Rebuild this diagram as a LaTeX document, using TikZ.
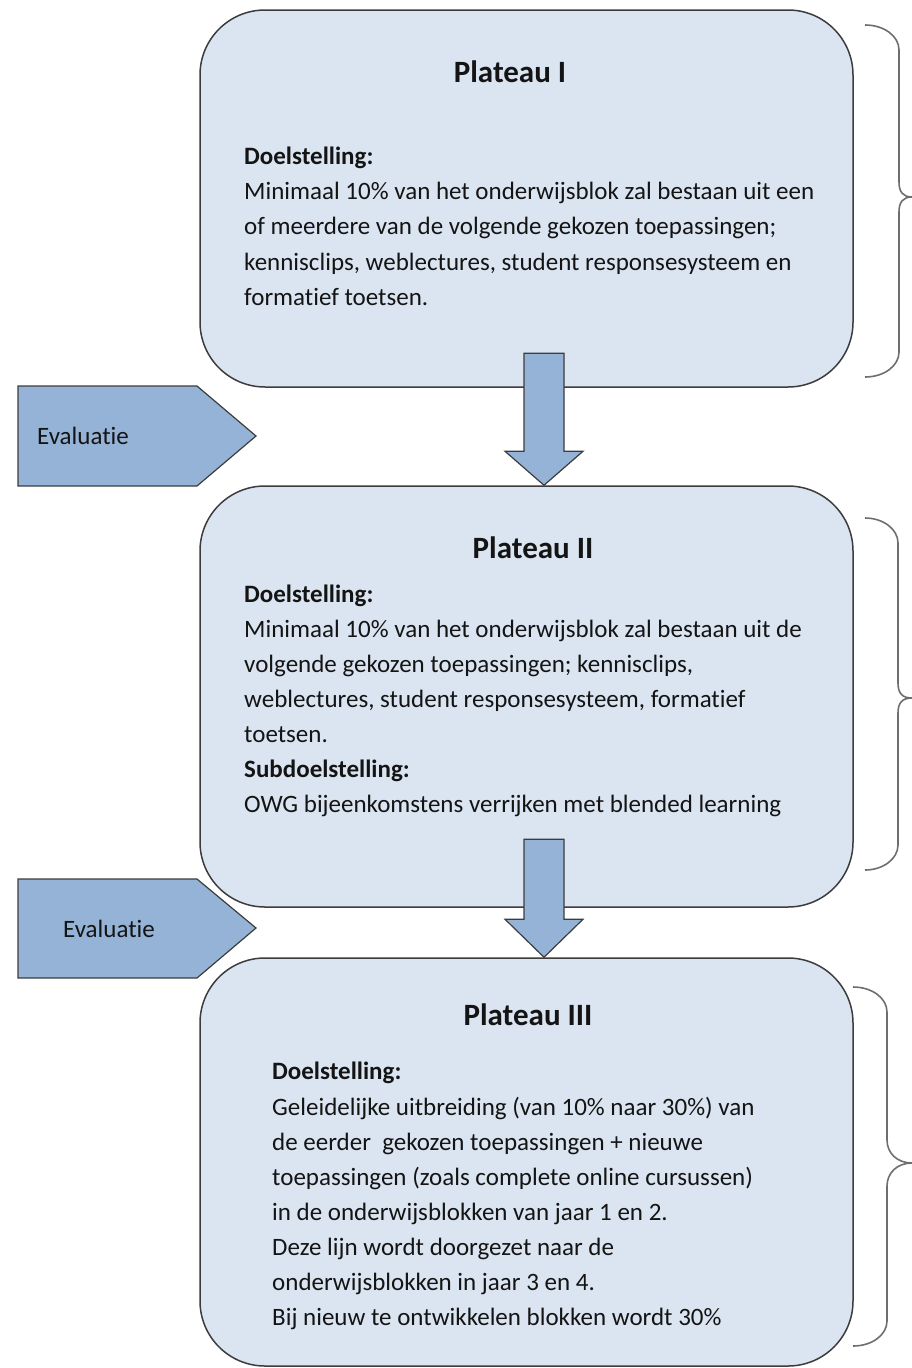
\documentclass[tikz,border=0pt]{standalone}
\usepackage{fontspec}
\setmainfont{Carlito}[Ligatures={NoCommon}]
\usetikzlibrary{calc}
\definecolor{boxfill}{RGB}{219,229,241}
\definecolor{arrfill}{RGB}{149,179,215}
\definecolor{bordc}{RGB}{60,60,60}
\definecolor{bracec}{RGB}{110,110,110}
\definecolor{txtc}{RGB}{20,20,20}
\begin{document}
\begin{tikzpicture}[x=1pt,y=-1pt,
 plateau/.style={draw=bordc, line width=1.5pt, fill=boxfill, rounded corners=65pt, inner sep=0pt},
 blockarrow/.style={draw=bordc, line width=1.2pt, fill=arrfill, line join=miter},
 evalshape/.style={draw=bordc, line width=1.2pt, fill=arrfill, line join=miter},
 bodytext/.style={anchor=base west, inner sep=0pt, text=txtc, font=\fontsize{25}{30}\selectfont},
 boldtext/.style={anchor=base west, inner sep=0pt, text=txtc, font=\fontsize{25}{30}\selectfont\bfseries},
 titletext/.style={anchor=base, inner sep=0pt, text=txtc, font=\fontsize{31}{36}\selectfont\bfseries},
 evaltext/.style={anchor=base, inner sep=0pt, text=txtc, font=\fontsize{25}{30}\selectfont},
 bracepath/.style={draw=bracec, line width=1.6pt}]
\useasboundingbox (0,0) rectangle (912,1368);

% evaluation pentagons
\draw[evalshape] (18,386) -- (197,386) -- (256,436) -- (197,486) -- (18,486) -- cycle;
\draw[evalshape] (18,879) -- (197,879) -- (256,928) -- (197,978) -- (18,978) -- cycle;
\node[evaltext] (ev1) at (83,444) {Evaluatie};
\node[evaltext] (ev2) at (109,937) {Evaluatie};

% plateau boxes
\node[plateau, minimum width=653pt, minimum height=377pt] (p1) at (526.5,198.5) {};
\node[plateau, minimum width=653pt, minimum height=421pt] (p2) at (526.5,696.5) {};
\node[plateau, minimum width=653pt, minimum height=408pt] (p3) at (526.5,1162) {};

% block arrows between plateaus
\coordinate (t1) at ([xshift=17.5pt]p2.north);
\coordinate (t2) at ([xshift=17.5pt]p3.north);
\draw[blockarrow] (t1) -- ++(-39,-34) -- ++(19,0) -- ++(0,-98) -- ++(40,0) -- ++(0,98) -- ++(19,0) -- cycle;
\draw[blockarrow] (t2) -- ++(-39,-38) -- ++(19,0) -- ++(0,-80) -- ++(40,0) -- ++(0,80) -- ++(19,0) -- cycle;

% braces
\draw[bracepath] (865,25) .. controls (884,25) and (899,36) .. (899,50) -- (899,182)
  .. controls (899,192) and (903,197) .. (912,197)
  .. controls (903,197) and (899,202) .. (899,212) -- (899,352)
  .. controls (899,366) and (884,377) .. (865,377);
\draw[bracepath] (865,518) .. controls (883,518) and (898,529) .. (898,543) -- (898,683)
  .. controls (898,693) and (902,698) .. (912,698)
  .. controls (902,698) and (898,703) .. (898,713) -- (898,845)
  .. controls (898,859) and (883,870) .. (865,870);
\draw[bracepath] (853,987) .. controls (872,987) and (887,998) .. (887,1012) -- (887,1140)
  .. controls (887,1153) and (897,1163) .. (912,1163)
  .. controls (897,1163) and (887,1173) .. (887,1186) -- (887,1321)
  .. controls (887,1335) and (872,1346) .. (853,1346);

% Plateau I text
\node[titletext] (h1) at (510,82) {Plateau I};
\node[boldtext] (d1) at (244,164) {Doelstelling:};
\node[bodytext] (a1) at (244,199.3) {Minimaal 10\% van het onderwijsblok zal bestaan uit een};
\node[bodytext] (a2) at (244,234.6) {of meerdere van de volgende gekozen toepassingen;};
\node[bodytext] (a3) at (244,270) {kennisclips, weblectures, student responsesysteem en};
\node[bodytext] (a4) at (244,305) {formatief toetsen.};

% Plateau II text
\node[titletext] (h2) at (533,558) {Plateau II};
\node[boldtext] (d2) at (244,602) {Doelstelling:};
\node[bodytext] (b1) at (244,637) {Minimaal 10\% van het onderwijsblok zal bestaan uit de};
\node[bodytext] (b2) at (244,672) {volgende gekozen toepassingen; kennisclips,};
\node[bodytext] (b3) at (244,707) {weblectures, student responsesysteem, formatief};
\node[bodytext] (b4) at (244,742) {toetsen.};
\node[boldtext] (s2) at (244,777) {Subdoelstelling:};
\node[bodytext] (b5) at (244,812) {OWG bijeenkomstens verrijken met blended learning};

% Plateau III text
\node[titletext] (h3) at (528,1025) {Plateau III};
\node[boldtext] (d3) at (272,1079) {Doelstelling:};
\node[bodytext] (c1) at (272,1115) {Geleidelijke uitbreiding (van 10\% naar 30\%) van};
\node[bodytext] (c2) at (272,1150) {de eerder\ \ gekozen toepassingen + nieuwe};
\node[bodytext] (c3) at (272,1185) {toepassingen (zoals complete online cursussen)};
\node[bodytext] (c4) at (272,1220) {in de onderwijsblokken van jaar 1 en 2.};
\node[bodytext] (c5) at (272,1255) {Deze lijn wordt doorgezet naar de};
\node[bodytext] (c6) at (272,1290) {onderwijsblokken in jaar 3 en 4.};
\node[bodytext] (c7) at (272,1325) {Bij nieuw te ontwikkelen blokken wordt 30\%};
\end{tikzpicture}
\end{document}
